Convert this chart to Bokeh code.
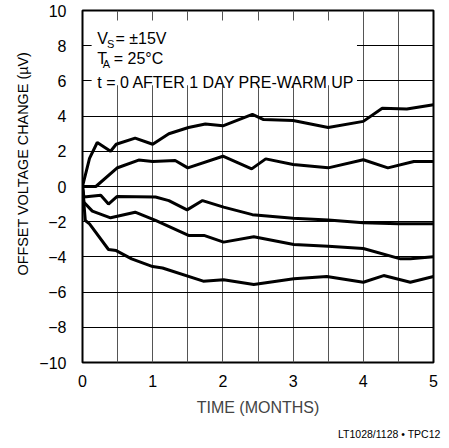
from bokeh.plotting import figure
from bokeh.models import FixedTicker, Label, BoxAnnotation, Title
from bokeh.embed import file_html
from bokeh.resources import INLINE

# ---- data (months, microvolts) ----
A_X = [0, 0.10, 0.21, 0.40, 0.48, 0.75, 1.0, 1.23, 1.51, 1.75, 2.0, 2.42, 2.58, 3.0, 3.5, 4.0, 4.27, 4.62, 5.0]
A_Y = [0, 1.6, 2.5, 2.0, 2.4, 2.75, 2.4, 3.0, 3.35, 3.55, 3.45, 4.1, 3.8, 3.75, 3.35, 3.7, 4.45, 4.4, 4.65]

B_X = [0, 0.19, 0.49, 0.8, 1.0, 1.32, 1.5, 2.0, 2.41, 2.61, 3.0, 3.5, 4.0, 4.35, 4.72, 5.0]
B_Y = [0, 0, 1.05, 1.5, 1.42, 1.48, 1.06, 1.72, 1.0, 1.57, 1.25, 1.06, 1.52, 1.06, 1.42, 1.42]

C_X = [0, 0.02, 0.26, 0.37, 0.49, 1.04, 1.23, 1.49, 1.71, 2.01, 2.42, 3.0, 3.5, 4.0, 4.5, 5.0]
C_Y = [0, -0.6, -0.5, -1.0, -0.57, -0.6, -0.8, -1.33, -0.8, -1.17, -1.6, -1.8, -1.9, -2.06, -2.12, -2.12]

D_X = [0, 0.02, 0.14, 0.4, 0.75, 1.04, 1.51, 1.73, 2.01, 2.44, 3.01, 3.5, 4.0, 4.53, 4.67, 5.0]
D_Y = [0, -0.89, -1.4, -1.78, -1.46, -1.93, -2.78, -2.78, -3.16, -2.86, -3.3, -3.4, -3.52, -4.11, -4.11, -3.99]

E_X = [0, 0.04, 0.1, 0.37, 0.48, 0.7, 1.0, 1.14, 1.72, 2.01, 2.44, 3.01, 3.48, 4.0, 4.29, 4.67, 5.0]
E_Y = [0, -1.93, -2.12, -3.58, -3.64, -4.11, -4.55, -4.63, -5.38, -5.3, -5.57, -5.24, -5.11, -5.44, -5.06, -5.44, -5.11]

X_TICKS = [0, 1, 2, 3, 4, 5]
X_GRID = [0, 0.5, 1, 1.5, 2, 2.5, 3, 3.5, 4, 4.5, 5]
Y_TICKS = [-10, -8, -6, -4, -2, 0, 2, 4, 6, 8, 10]
Y_TICK_LABELS = ["\u221210", "\u22128", "\u22126", "\u22124", "\u22122", "0", "2", "4", "6", "8", "10"]

FONT = "Liberation Sans"

p = figure(width=449, height=448, x_range=(0, 5), y_range=(-10, 10),
           output_backend="svg", toolbar_location=None,
           min_border_left=82, min_border_right=16, min_border_top=10, min_border_bottom=86)
p.background_fill_color = "white"
p.border_fill_color = "white"
p.outline_line_color = "black"
p.outline_line_width = 2

# axes
p.xaxis.ticker = FixedTicker(ticks=X_TICKS)
p.yaxis.ticker = FixedTicker(ticks=Y_TICKS)
p.yaxis.major_label_overrides = {t: l for t, l in zip(Y_TICKS, Y_TICK_LABELS)}
for ax in (p.xaxis, p.yaxis):
    ax.axis_line_color = None
    ax.major_tick_line_color = None
    ax.minor_tick_line_color = None
    ax.major_label_text_font = FONT
    ax.major_label_text_font_size = "16px"
    ax.major_label_text_color = "black"
p.xaxis.major_label_standoff = 6
p.yaxis.major_label_standoff = 10
p.xaxis.axis_label = "TIME (MONTHS)"
p.xaxis.axis_label_text_font = FONT
p.xaxis.axis_label_text_font_size = "16px"
p.xaxis.axis_label_text_font_style = "normal"
p.xaxis.axis_label_standoff = 9

# y axis title (as a side title so it can be shifted along the axis)
p.add_layout(Title(text="OFFSET VOLTAGE CHANGE (\u00b5V)", align="left", offset=87,
                   text_font=FONT, text_font_size="14.4px", text_font_style="normal",
                   text_color="black", standoff=12), "left")

# footnote
p.add_layout(Title(text="LT1028/1128 \u2022 TPC12", align="right", offset=-7,
                   text_font=FONT, text_font_size="10.5px", text_font_style="normal",
                   text_color="black", standoff=14), "below")

# grid
p.xgrid.ticker = FixedTicker(ticks=X_GRID)
p.ygrid.ticker = FixedTicker(ticks=Y_TICKS)
p.xgrid.grid_line_color = "#555555"
p.xgrid.grid_line_width = 1
p.ygrid.grid_line_color = "black"
p.ygrid.grid_line_width = 1

# white panel behind the conditions text (hides the grid there)
p.add_layout(BoxAnnotation(left=0.13, right=3.91, bottom=5.75, top=9.43,
                           fill_color="white", fill_alpha=1.0, line_color=None))

# curves
for xs, ys in ((A_X, A_Y), (B_X, B_Y), (C_X, C_Y), (D_X, D_Y), (E_X, E_Y)):
    p.line(xs, ys, line_color="black", line_width=3)

# conditions text
def lab(x, y, t, size="16px"):
    p.add_layout(Label(x=x, y=y, text=t, text_font=FONT, text_font_size=size,
                       text_color="black", text_baseline="alphabetic"))

lab(0.21, 8.39, "V")
lab(0.35, 8.10, "S", size="11px")
lab(0.47, 8.39, "= \u00b115V")
lab(0.21, 7.25, "T")
lab(0.29, 6.96, "A", size="11px")
lab(0.445, 7.25, "= 25\u00b0C")
lab(0.21, 5.93, "t = 0 AFTER 1 DAY PRE-WARM UP")

open("out.html", "w").write(file_html(p, INLINE))
